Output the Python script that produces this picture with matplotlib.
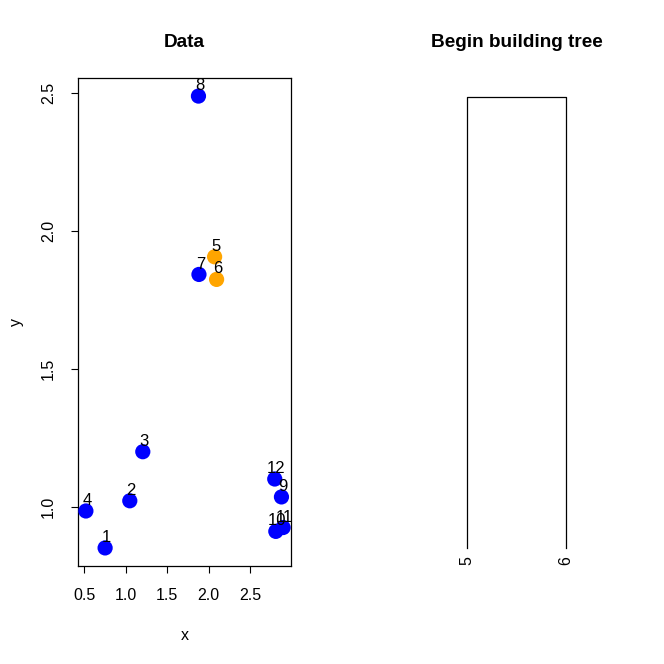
import numpy as np
import matplotlib.pyplot as plt

plt.rcParams['font.family'] = ['Liberation Sans', 'DejaVu Sans']

# point data
labels = ['1', '2', '3', '4', '5', '6', '7', '8', '9', '10', '11', '12']
x_vals = [0.749, 1.047, 1.204, 0.517, 2.071, 2.095, 1.882, 1.876, 2.878, 2.81, 2.898, 2.797]
y_vals = [0.851, 1.022, 1.200, 0.985, 1.907, 1.825, 1.843, 2.490, 1.036, 0.911, 0.925, 1.101]
cluster = ['5', '6']  # the pair being merged first
x_ticks = [0.5, 1.0, 1.5, 2.0, 2.5]
y_ticks = [1.0, 1.5, 2.0, 2.5]

BLUE = '#0000FF'
ORANGE = '#FFA500'


def r_lim(v):
    # R-style 4% padding
    lo, hi = min(v), max(v)
    pad = 0.04 * (hi - lo)
    return lo - pad, hi + pad


fig = plt.figure(figsize=(6.64, 6.64), dpi=100)
W = H = 664.0
ax = fig.add_axes([78 / W, (H - 566) / H, 213 / W, 488 / H])
ax2 = fig.add_axes([410 / W, (H - 566) / H, 213 / W, 488 / H])

# scatter panel
cols = [ORANGE if lab in cluster else BLUE for lab in labels]
ax.scatter(x_vals, y_vals, s=120, c=cols, linewidths=0, zorder=3)
for lab, xv, yv in zip(labels, x_vals, y_vals):
    ax.annotate(lab, (xv, yv), xytext=(1, 7.5), textcoords='offset points',
                ha='center', va='center', fontsize=12, color='black')
ax.set_xlim(r_lim(x_vals))
ax.set_ylim(r_lim(y_vals))
ax.set_xticks(x_ticks)
ax.set_xticklabels([f'{t:.1f}' for t in x_ticks])
ax.set_yticks(y_ticks)
ax.set_yticklabels([f'{t:.1f}' for t in y_ticks], rotation=90, va='center')
ax.tick_params(length=5, width=0.8, labelsize=11.5, pad=11)
for sp in ax.spines.values():
    sp.set_linewidth(0.9)
ax.set_title('Data', fontsize=13.7, fontweight='bold', pad=22)
ax.set_xlabel('x', fontsize=11.5, labelpad=18)
ax.set_ylabel('y', fontsize=11.5, labelpad=12)

# dendrogram panel: single merge of points 5 and 6
i5, i6 = labels.index('5'), labels.index('6')
h = np.hypot(x_vals[i5] - x_vals[i6], y_vals[i5] - y_vals[i6])
leaf_pos = [1, 2]
ax2.plot([leaf_pos[0], leaf_pos[0], leaf_pos[1], leaf_pos[1]], [0, h, h, 0],
         color='black', lw=0.9)
for pos, lab in zip(leaf_pos, cluster):
    ax2.annotate(lab, (pos, 0), xytext=(0, -6), textcoords='offset points',
                 rotation=90, ha='center', va='top', fontsize=11.5)
ax2.set_xlim(1 - 57 / 99, 2 + 57 / 99)
ax2.set_ylim(-18 / 451 * h, h + 19 / 451 * h)
ax2.axis('off')
ax2.set_title('Begin building tree', fontsize=13.7, fontweight='bold', pad=22)

fig.savefig('out.png', dpi=100)
